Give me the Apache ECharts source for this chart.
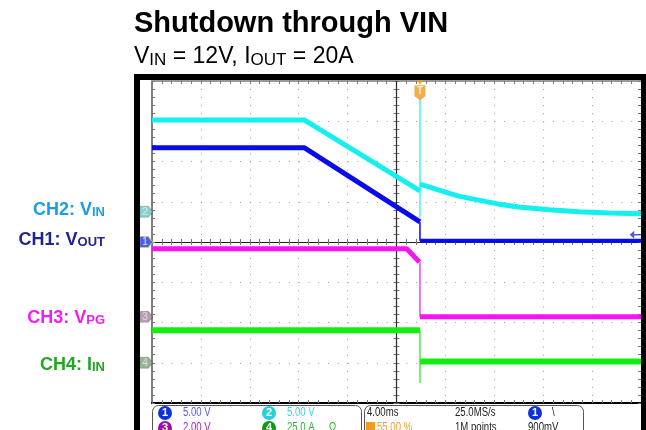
<!DOCTYPE html>
<html><head><meta charset="utf-8">
<script src="https://cdn.jsdelivr.net/npm/echarts@6/dist/echarts.min.js"></script>
<style>html,body{margin:0;padding:0;background:#fff}#c{width:646px;height:430px}</style>
</head><body><div id="c"></div>
<script>
// Oscilloscope screen units: time in divisions from screen centre (4.00 ms/div),
// amplitude in vertical divisions from screen centre.
// CH2 VIN (cyan)
const vinPreT  = [-5, -1.88, 0.48];
const vinPreV  = [3.03, 3.03, 1.27];
const vinPostT = [0.48, 0.87, 1.27, 1.68, 2.09, 2.50, 3.12, 3.73, 4.34, 5];
const vinPostV = [1.44, 1.29, 1.14, 1.04, 0.94, 0.87, 0.80, 0.75, 0.72, 0.70];
// CH1 VOUT (blue)
const voutPreT  = [-5, -1.88, 0.48];
const voutPreV  = [2.34, 2.34, 0.50];
const voutPostT = [0.48, 5];
const voutPostV = [0.03, 0.03];
// CH3 VPG (magenta)
const vpgPreT  = [-5, 0.21, 0.47];
const vpgPreV  = [-0.17, -0.17, -0.50];
const vpgPostT = [0.48, 5];
const vpgPostV = [-1.86, -1.86];
// CH4 IIN (green)
const iinPreT  = [-5, 0.48];
const iinPreV  = [-2.19, -2.19];
const iinPostT = [0.48, 5];
const iinPostV = [-2.97, -2.97];
const iinSpikeLow = -3.5;
// trigger
const trigT = 0.48;          // 55.00 % of record
const trigLevelCh1 = 0.18;   // 900 mV at 5 V/div
const cyanTrigLine = [3.58, 0.6];
// channel ground markers (divisions)
const chNames   = ['1', '2', '3', '4'];
const chOffsets = [0, 0.75, -1.86, -3.0];

const zip = (t, v) => t.map((x, i) => [x, v[i]]);

const C_CYAN = '#14F0F0', C_BLUE = '#0A0AEE', C_MAG = '#F814F0', C_GRN = '#12EE12';

const chart = echarts.init(document.getElementById('c'));

function thick(name, data, color, w) {
  return {type:'line', name, xAxisIndex:2, yAxisIndex:2, data, symbol:'none',
    lineStyle:{color, width:w}, z:3, animation:false};
}
function thin(name, data, color, w) {
  return {type:'line', name, xAxisIndex:2, yAxisIndex:2, data, symbol:'none',
    lineStyle:{color, width:w || 1.2}, z:3, animation:false};
}

const markerCols = ['#2038E6', '#6FC6C6', '#A883A8', '#7DA37D'];
const markerPath = 'path://M0,0 L8,0 L12,5 L8,10 L0,10 Z';

const tickCommon = {show:true, inside:true, length:3, lineStyle:{color:'#777', width:1}};
const minorCommon = {show:true, splitNumber:5, length:3, lineStyle:{color:'#777', width:1}};

function xAx(grid, pos, line, onZero, split) {
  return {gridIndex:grid, type:'value', min:-5, max:5, interval:1, position:pos,
    axisLine:{show:true, onZero:onZero, lineStyle:line},
    axisTick:tickCommon, minorTick:minorCommon, axisLabel:{show:false},
    splitLine: split ? {show:true, lineStyle:{color:'#9c9c9c', width:1, type:[1,7.05]}} : {show:false}};
}
function yAx(grid, pos, line, onZero, split) {
  return {gridIndex:grid, type:'value', min:-4, max:4, interval:1, position:pos,
    axisLine:{show:true, onZero:onZero, lineStyle:line},
    axisTick:tickCommon, minorTick:minorCommon, axisLabel:{show:false},
    splitLine: split ? {show:true, lineStyle:{color:'#9c9c9c', width:1, type:[1,8.78]}} : {show:false}};
}

const FONT = 'Liberation Sans, Arial, sans-serif';

function label(txt, sub, color, x, y) {
  return {type:'text', x, y, z:10, style:{
    text:'{m|' + txt + '}{s|' + sub + '}', align:'right', verticalAlign:'middle',
    rich:{m:{fontSize:18, fontWeight:'bold', fontFamily:FONT, fill:color, verticalAlign:'bottom'},
          s:{fontSize:13, fontWeight:'bold', fontFamily:FONT, fill:color, verticalAlign:'bottom'}}}};
}
function ptxt(t, x, y, color) {
  return {type:'text', x, y, z:10, scaleX:0.8, style:{text:t, fontSize:12, fontFamily:FONT, fill:color, verticalAlign:'middle'}};
}
function circ(n, cx, cy, color) {
  return [{type:'circle', shape:{cx, cy, r:7}, style:{fill:color}, z:10},
          {type:'text', x:cx, y:cy, z:11, style:{text:n, fontSize:11, fontWeight:'bold', fontFamily:FONT, fill:'#fff', align:'center', verticalAlign:'middle'}}];
}

const option = {
  animation:false,
  backgroundColor:'#fff',
  grid:[{left:152, top:81, width:489, height:322, show:false},
        {left:152, top:81, width:489, height:322, show:false}],
  xAxis:[
    xAx(0, 'bottom', {color:'#000', width:2}, false, true),
    xAx(0, 'top', {color:'#9a9a9a', width:2}, false, false),
    xAx(1, 'bottom', {color:'#222', width:1}, true, false),
    xAx(1, 'top', {color:'#222', width:1}, true, false)
  ],
  yAxis:[
    yAx(0, 'left', {color:'#555', width:1.5}, false, true),
    yAx(0, 'right', {color:'#000', width:1}, false, false),
    yAx(1, 'left', {color:'#222', width:1}, true, false),
    yAx(1, 'right', {color:'#222', width:1}, true, false)
  ],
  series:[
    // vertical centre line of the graticule (time = screen centre)
    {type:'line', name:'centre', xAxisIndex:2, yAxisIndex:2, data:[[0, -4], [0, 4]], symbol:'none',
     lineStyle:{color:'#2a2a2a', width:1.2}, z:1, animation:false, silent:true},
    thick('VIN', zip(vinPreT, vinPreV), C_CYAN, 5),
    thick('VIN after', zip(vinPostT, vinPostV), C_CYAN, 5),
    thin('VIN edge', [[trigT, cyanTrigLine[0]], [trigT, cyanTrigLine[1]]], C_CYAN, 1.2),
    thick('VOUT', zip(voutPreT, voutPreV), C_BLUE, 5),
    thin('VOUT edge', [[trigT, voutPreV[voutPreV.length-1]], [trigT, voutPostV[0]]], C_BLUE, 1.5),
    thick('VOUT after', zip(voutPostT, voutPostV), C_BLUE, 4),
    thick('VPG', zip(vpgPreT, vpgPreV), C_MAG, 5),
    thin('VPG edge', [[trigT, vpgPreV[vpgPreV.length-1]], [trigT, vpgPostV[0]]], C_MAG, 1.2),
    thick('VPG after', zip(vpgPostT, vpgPostV), C_MAG, 5),
    thick('IIN', zip(iinPreT, iinPreV), C_GRN, 6),
    thin('IIN edge', [[trigT, iinPreV[iinPreV.length-1]], [trigT, iinSpikeLow]], C_GRN, 1.2),
    thick('IIN after', zip(iinPostT, iinPostV), C_GRN, 6),
    // channel ground markers
    {type:'scatter', xAxisIndex:2, yAxisIndex:2, clip:false, z:6, animation:false,
     symbol:markerPath, symbolSize:[13,11],
     data: chOffsets.map((v, i) => ({value:[-5.12, v], itemStyle:{color:markerCols[i],
        borderColor: i === 0 ? '#D8D060' : 'rgba(0,0,0,0.25)', borderWidth: 1},
        label:{show:true, formatter:chNames[i], position:'inside', color: i === 0 ? '#fff' : '#e8e8e8',
          fontSize:10, fontFamily:FONT, offset:[-1,0]}}))},
    // trigger marker
    {type:'scatter', xAxisIndex:2, yAxisIndex:2, clip:false, z:7, animation:false,
     data:[{value:[trigT, 3.71], symbol:'path://M0,0 L10,0 L10,11 L5,15 L0,11 Z', symbolSize:[11,15],
            itemStyle:{color:'#F39A1E'}, label:{show:true, formatter:'T', position:'inside', color:'#fff', fontSize:10, fontWeight:'bold', offset:[0,-1]}},
           {value:[trigT, 3.98], symbol:'triangle', symbolRotate:180, symbolSize:[9,6], itemStyle:{color:'#F39A1E'}},
           {value:[4.88, trigLevelCh1], symbol:'path://M0,5 L5,0 L5,4 L12,4 L12,6 L5,6 L5,10 Z', symbolSize:[11,8], itemStyle:{color:'#2030E0'}}]}
  ],
  graphic:[
    // scope frame
    {type:'rect', shape:{x:134, y:74, width:512, height:6}, style:{fill:'#000'}, z:9},
    {type:'rect', shape:{x:134, y:74, width:6, height:356}, style:{fill:'#000'}, z:9},
    {type:'rect', shape:{x:641, y:74, width:5, height:356}, style:{fill:'#000'}, z:9},
    // title
    {type:'text', x:134, y:24, z:10, style:{text:'Shutdown through VIN', fontSize:29, fontWeight:'bold', fontFamily:FONT, fill:'#000', verticalAlign:'middle'}},
    {type:'text', x:134, y:57, z:10, style:{
      text:'{m|V}{s|IN}{m| = 12V, I}{s|OUT}{m| = 20A}', verticalAlign:'middle',
      rich:{m:{fontSize:23, fontFamily:FONT, fill:'#000', verticalAlign:'bottom'},
            s:{fontSize:17, fontFamily:FONT, fill:'#000', verticalAlign:'bottom'}}}},
    // channel labels
    label('CH2: V', 'IN', '#1A9FE6', 105, 210),
    label('CH1: V', 'OUT', '#23238C', 105, 240),
    label('CH3: V', 'PG', '#F01EF0', 105, 318),
    label('CH4: I', 'IN', '#21A821', 105, 365),
    // status panel
    {type:'rect', shape:{x:152.5, y:405.5, width:209, height:40, r:6}, style:{fill:'#fff', stroke:'#555', lineWidth:1}, z:9},
    {type:'rect', shape:{x:364.5, y:405.5, width:219, height:40, r:6}, style:{fill:'#fff', stroke:'#555', lineWidth:1}, z:9},
    ...circ('1', 165, 413, '#1030E0'),
    ptxt('5.00 V', 183, 413, '#5A5AE8'),
    ...circ('2', 269, 413, '#22D2D6'),
    ptxt('5.00 V', 287, 413, '#3CD6E0'),
    ...circ('3', 165, 428, '#A010A6'),
    ptxt('2.00 V', 183, 428, '#B020B0'),
    ...circ('4', 269, 428, '#109A10'),
    ptxt('25.0 A', 287, 428, '#30B030'),
    ptxt('Ω', 329, 428, '#30B030'),
    ptxt('4.00ms', 367, 413, '#222'),
    ptxt('25.0MS/s', 455, 413, '#222'),
    ...circ('1', 535, 413, '#1030E0'),
    ptxt('\\', 552, 413, '#222'),
    {type:'rect', shape:{x:366, y:422, width:9, height:10}, style:{fill:'#F39A1E'}, z:10},
    ptxt('55.00 %', 377, 428, '#F0A030'),
    ptxt('1M points', 455, 428, '#222'),
    ptxt('900mV', 528, 428, '#222')
  ]
};
chart.setOption(option);
</script></body></html>
